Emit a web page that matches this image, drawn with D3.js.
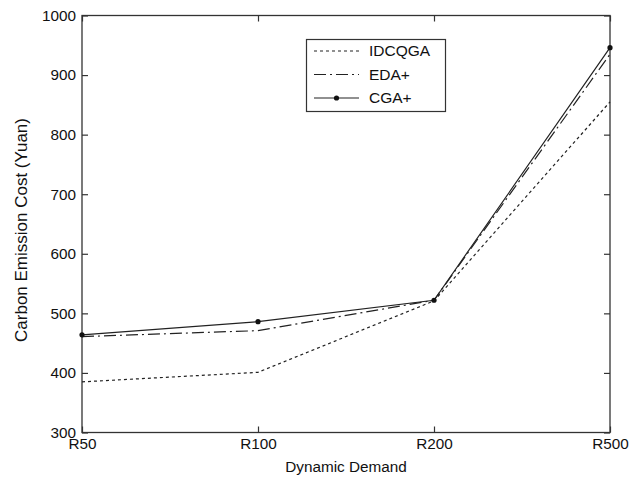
<!DOCTYPE html>
<html><head><meta charset="utf-8">
<script src="https://cdn.jsdelivr.net/npm/d3@7"></script>
<style>body{margin:0;background:#fff}svg{display:block}text{font-family:"Liberation Sans",Arial,sans-serif;fill:#111}</style>
</head><body>
<svg id="c" width="638" height="478"></svg>
<script>
const categories = ["R50","R100","R200","R500"];
const idcqga = [385, 401, 521, 855];
const edaPlus = [461, 471, 522, 935];
const cgaPlus = [464, 486, 522, 946];
const yTicks = [300,400,500,600,700,800,900,1000];
const seriesNames = ["IDCQGA","EDA+","CGA+"];

const svg = d3.select("#c");
const m = {l:82, r:28, t:15.5, b:45.5};
const W = 638, H = 478;
const x = d3.scalePoint().domain(categories).range([m.l, W-m.r]);
const y = d3.scaleLinear().domain([300,1000]).range([H-m.b, m.t]);

const stroke = "#222";
svg.append("rect").attr("x", m.l).attr("y", m.t).attr("width", W-m.r-m.l).attr("height", H-m.b-m.t)
  .attr("fill","none").attr("stroke","#333").attr("stroke-width",1.3);

const gx = svg.append("g").attr("transform",`translate(0,${H-m.b})`)
  .call(d3.axisBottom(x).tickSize(-6).tickPadding(6));
const gxt = svg.append("g").attr("transform",`translate(0,${m.t})`)
  .call(d3.axisTop(x).tickSize(-6).tickFormat(""));
const gy = svg.append("g").attr("transform",`translate(${m.l},0)`)
  .call(d3.axisLeft(y).tickValues(yTicks).tickSize(-6).tickPadding(6).tickFormat(d3.format("d")));
const gyr = svg.append("g").attr("transform",`translate(${W-m.r},0)`)
  .call(d3.axisRight(y).tickValues(yTicks).tickSize(-6).tickFormat(""));
[gx,gxt,gy,gyr].forEach(g=>{
  g.select(".domain").remove();
  g.selectAll(".tick line").attr("stroke","#333").attr("stroke-width",1.2);
  g.selectAll("text").attr("font-size",15.3).style("font-family","'Liberation Sans',Arial,sans-serif").attr("fill","#111");
});

svg.append("text").attr("x", (m.l+W-m.r)/2).attr("y", 472).attr("text-anchor","middle")
  .attr("font-size",15.3).text("Dynamic Demand");
svg.append("text").attr("transform",`translate(27,${(m.t+H-m.b)/2 + 6}) rotate(-90)`).attr("text-anchor","middle")
  .attr("font-size",17).text("Carbon Emission Cost (Yuan)");

const line = d3.line().x((d,i)=>x(categories[i])).y(d=>y(d));
const styles = [
  {data: idcqga, dash:"3,3"},
  {data: edaPlus, dash:"12,4,2,4"},
  {data: cgaPlus, dash:null}
];
styles.forEach(s=>{
  const p = svg.append("path").datum(s.data).attr("d", line).attr("fill","none")
    .attr("stroke", stroke).attr("stroke-width",1.2);
  if (s.dash) p.attr("stroke-dasharray", s.dash);
});
svg.selectAll("circle.pt").data(cgaPlus).join("circle").attr("class","pt")
  .attr("cx",(d,i)=>x(categories[i])).attr("cy",d=>y(d)).attr("r",2.6).attr("fill","#111");

const lg = svg.append("g");
lg.append("rect").attr("x",306.5).attr("y",39.5).attr("width",139).attr("height",72)
  .attr("fill","#fff").attr("stroke","#333").attr("stroke-width",1.2);
styles.forEach((s,i)=>{
  const yy = 51 + i*23.5;
  const l = lg.append("line").attr("x1",314).attr("x2",359).attr("y1",yy).attr("y2",yy)
    .attr("stroke",stroke).attr("stroke-width",1.2);
  if (s.dash) l.attr("stroke-dasharray", s.dash);
  if (i===2) lg.append("circle").attr("cx",336.5).attr("cy",yy).attr("r",2.6).attr("fill","#111");
  lg.append("text").attr("x",369).attr("y",yy).attr("dy","0.35em").attr("font-size",15.5).text(seriesNames[i]);
});
</script>
</body></html>
